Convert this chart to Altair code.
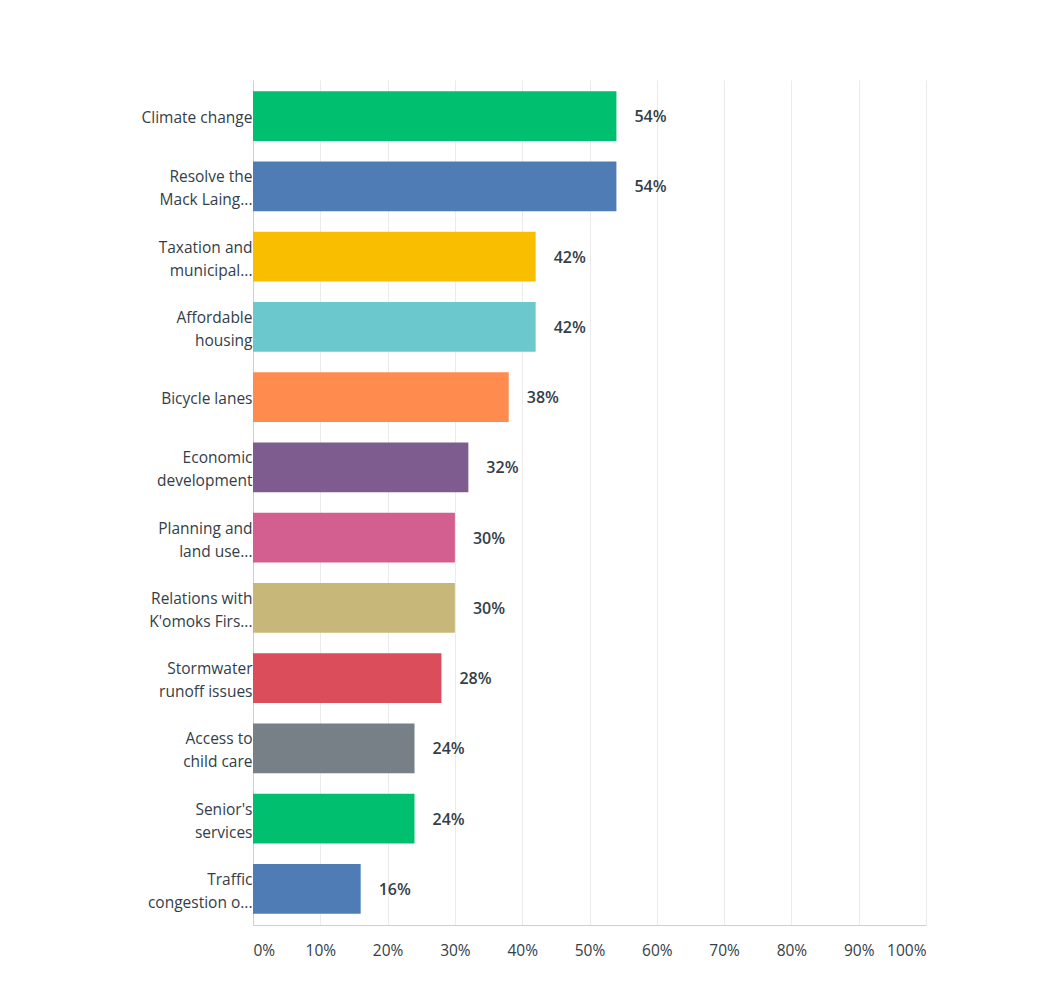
import altair as alt
import pandas as pd

CATEGORIES = [
    "Climate change",
    "Resolve the\nMack Laing...",
    "Taxation and\nmunicipal...",
    "Affordable\nhousing",
    "Bicycle lanes",
    "Economic\ndevelopment",
    "Planning and\nland use...",
    "Relations with\nK'omoks Firs...",
    "Stormwater\nrunoff issues",
    "Access to\nchild care",
    "Senior's\nservices",
    "Traffic\ncongestion o...",
]
PERCENTS = [54, 54, 42, 42, 38, 32, 30, 30, 28, 24, 24, 16]
COLORS = [
    "#00bf6f", "#507cb6", "#f9be00", "#6bc8cd", "#ff8b4f", "#7f5c8f",
    "#d25f90", "#c7b879", "#dc4d5b", "#768086", "#00bf6f", "#507cb6",
]
TICKS = [0, 10, 20, 30, 40, 50, 60, 70, 80, 90, 100]

FONT = "Open Sans"
TEXT_COLOR = "#333e48"

df = pd.DataFrame({"answer": CATEGORIES, "pct": PERCENTS, "color": COLORS})
df["label"] = df["pct"].astype(str) + "%"

y = alt.Y(
    "answer:N",
    sort=CATEGORIES,
    title=None,
    scale=alt.Scale(paddingInner=0.29, paddingOuter=0.16),
    axis=alt.Axis(
        labelExpr="split(datum.value, '\\n')",
        labelFont=FONT,
        labelFontSize=15.5,
        labelColor=TEXT_COLOR,
        labelLineHeight=23,
        labelPadding=1,
        labelLimit=220,
        labelOffset={"condition": {"test": "indexof(datum.value, '\\n') >= 0", "value": -9}, "value": 2},
        ticks=False,
        grid=False,
        domainColor="#cfcfcf",
    ),
)

bars = (
    alt.Chart(df)
    .mark_bar()
    .encode(
        x=alt.X(
            "pct:Q",
            title=None,
            scale=alt.Scale(domain=[0, 100], nice=False),
            axis=alt.Axis(
                values=TICKS,
                labelExpr="datum.value + '%'",
                labelFont=FONT,
                labelFontSize=15.5,
                labelColor=TEXT_COLOR,
                labelPadding=18,
                labelFlush=True,
                ticks=False,
                gridColor="#ebebeb",
                domainColor="#cfcfcf",
            ),
        ),
        y=y,
        color=alt.Color("color:N", scale=None, legend=None),
    )
)

labels = (
    alt.Chart(df)
    .mark_text(align="left", baseline="middle", dx=18, dy=1, font=FONT, fontSize=16,
               fontWeight=600, color=TEXT_COLOR)
    .encode(x="pct:Q", y=y, text="label:N")
)

chart = (
    alt.layer(bars, labels)
    .properties(
        width=673,
        height=845,
        autosize=alt.AutoSizeParams(type="none"),
        padding={"left": 245, "top": 72, "right": 100, "bottom": 70},
    )
    .configure_view(stroke=None)
)

chart.save("out.html", embed_options={"renderer": "svg", "actions": False})
